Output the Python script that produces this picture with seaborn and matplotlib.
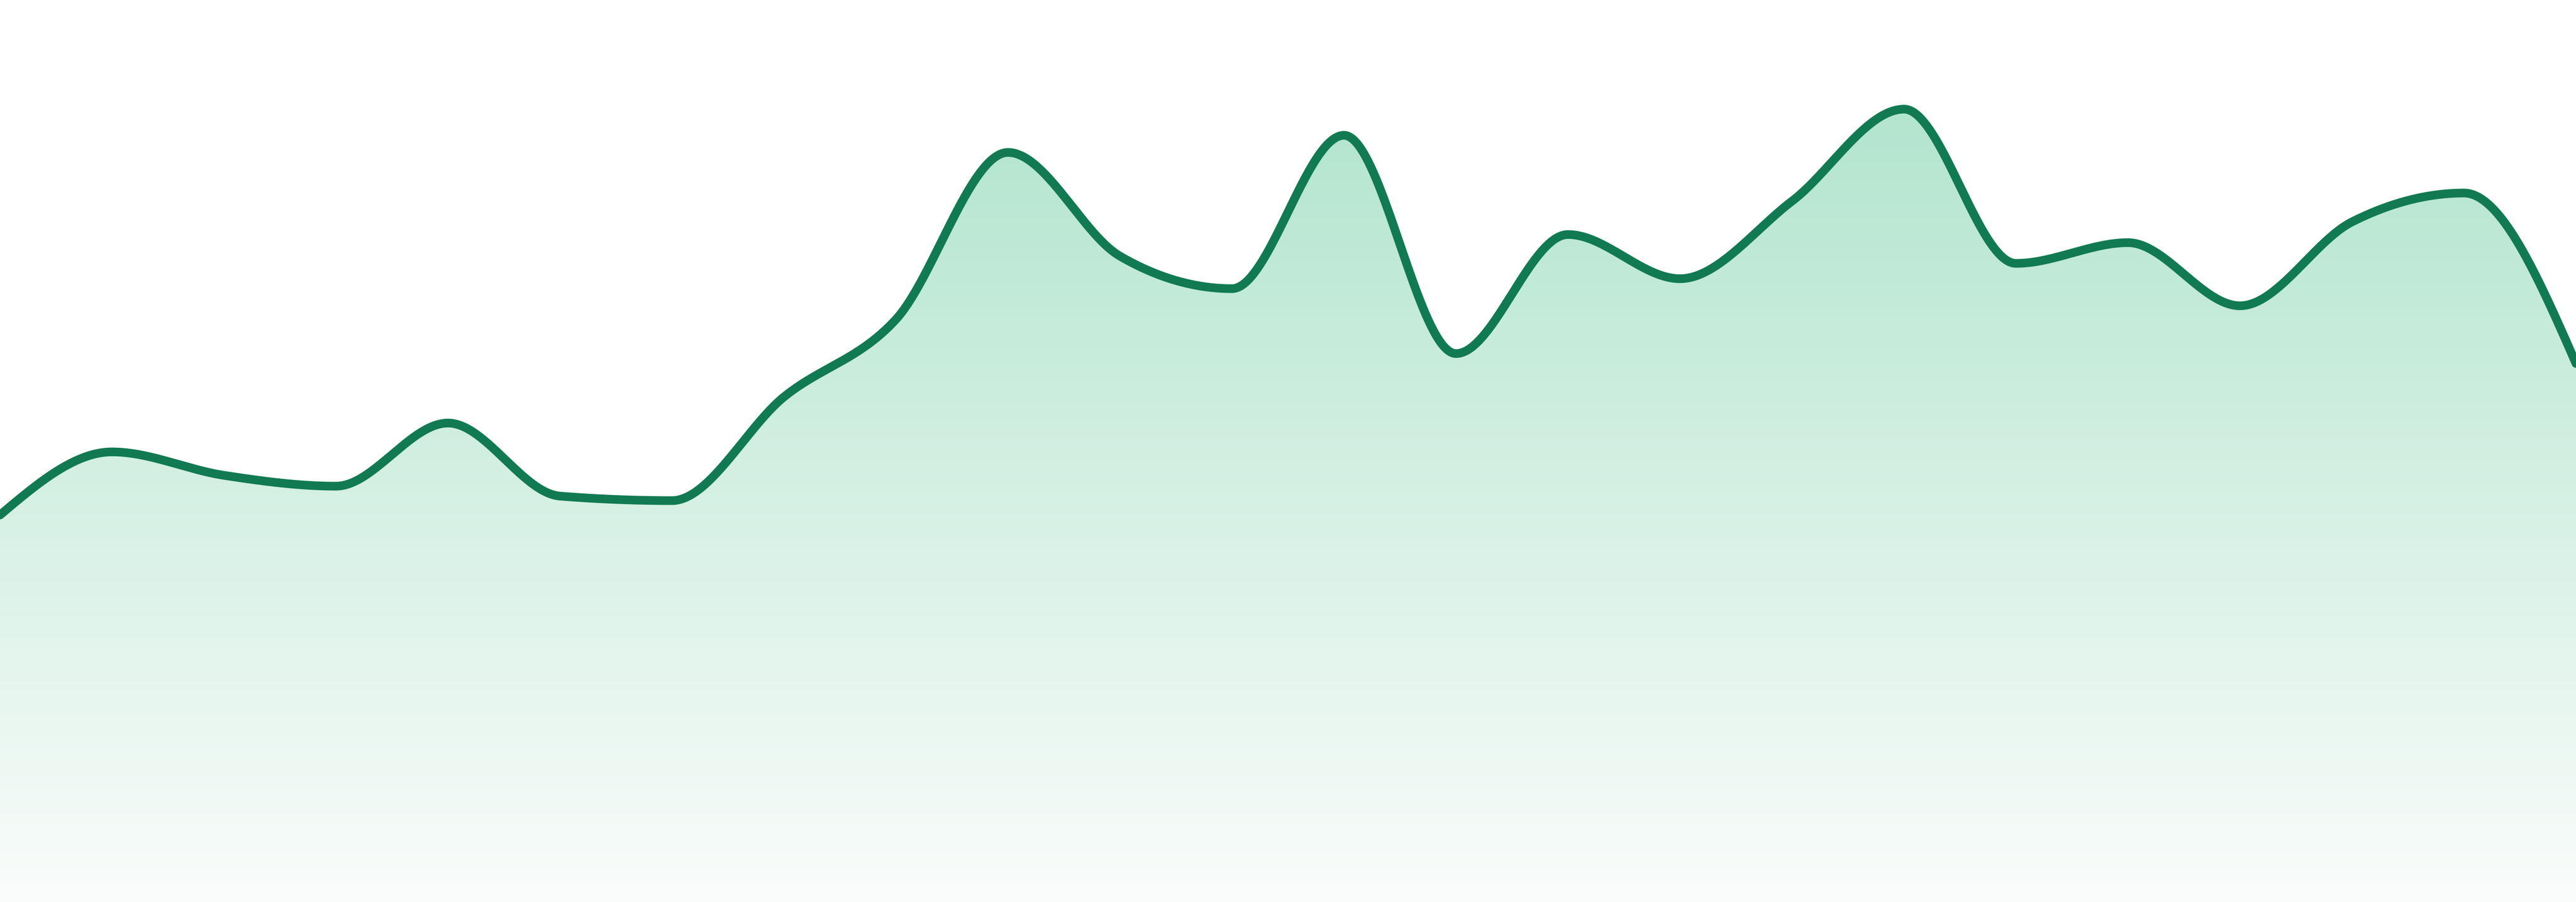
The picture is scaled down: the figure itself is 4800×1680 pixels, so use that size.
import numpy as np
import pandas as pd
import matplotlib
matplotlib.use("Agg")
import matplotlib.pyplot as plt
import seaborn as sns

# ---- data ----
index = list(range(24))
values = [42.9, 49.9, 47.3, 46.1, 53.1, 45.0, 44.5, 56.0, 64.6, 83.1, 71.6, 68.0,
          85.0, 60.8, 74.0, 69.1, 77.7, 87.9, 70.8, 73.1, 66.1, 75.4, 78.6, 59.7]

LINE_COLOR = "#117a52"
TOP_RGB = (0.66, 0.885, 0.785)
BOTTOM_RGB = (0.98, 0.99, 0.985)


def monotone_x(x, y, n=80):
    """d3-style curveMonotoneX rendering of the series."""
    x = np.asarray(x, float)
    y = np.asarray(y, float)
    h = np.diff(x)
    s = np.diff(y) / h
    t = np.zeros_like(y)
    for i in range(1, len(y) - 1):
        h0, h1 = h[i - 1], h[i]
        s0, s1 = s[i - 1], s[i]
        p = (s0 * h1 + s1 * h0) / (h0 + h1)
        t[i] = (np.sign(s0) + np.sign(s1)) * min(abs(s0), abs(s1), 0.5 * abs(p))
    t[0] = (3 * s[0] - t[1]) / 2
    t[-1] = (3 * s[-1] - t[-2]) / 2
    xs, ys = [], []
    for i in range(len(x) - 1):
        u = np.linspace(0, 1, n, endpoint=(i == len(x) - 2))
        dx = h[i]
        h00 = 2 * u**3 - 3 * u**2 + 1
        h10 = u**3 - 2 * u**2 + u
        h01 = -2 * u**3 + 3 * u**2
        h11 = u**3 - u**2
        xs.append(x[i] + u * dx)
        ys.append(h00 * y[i] + h10 * dx * t[i] + h01 * y[i + 1] + h11 * dx * t[i + 1])
    return np.concatenate(xs), np.concatenate(ys)


xd, yd = monotone_x(index, values)
df = pd.DataFrame({"x": xd, "y": yd})

sns.set_theme(style="white")
fig = plt.figure(figsize=(24, 8.4), dpi=200)
ax = fig.add_axes([0, 0, 1, 1])
ax.set_xlim(index[0], index[-1])
ax.set_ylim(0, 100)

# gradient area fill
poly = ax.fill_between(df["x"], df["y"], 0, facecolor="none", edgecolor="none")
grad = np.linspace(0, 1, 256)[:, None, None]
top = np.array(TOP_RGB)[None, None, :]
bot = np.array(BOTTOM_RGB)[None, None, :]
img = top * (1 - grad) + bot * grad
im = ax.imshow(img, extent=[index[0], index[-1], 0, 100], aspect="auto",
               origin="upper", zorder=1, interpolation="bilinear")
im.set_clip_path(poly.get_paths()[0], transform=ax.transData)

sns.lineplot(data=df, x="x", y="y", ax=ax, color=LINE_COLOR, linewidth=5.8,
             sort=False, zorder=3)

ax.set_axis_off()
fig.savefig("out.png", dpi=200, facecolor="white")
